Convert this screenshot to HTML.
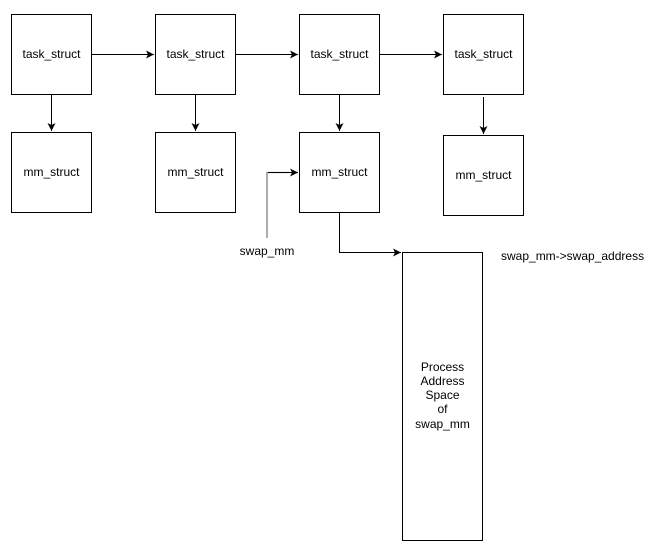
<!DOCTYPE html>
<html><head><style>
body{margin:0;background:#fff;width:672px;height:548px;overflow:hidden}
svg text{font-family:"Liberation Sans",Arial,sans-serif;font-size:12px;fill:#000}
</style></head><body>
<svg width="672" height="548" viewBox="0 0 672 548">
<defs><marker id="a" markerWidth="10" markerHeight="10" refX="8" refY="5" orient="auto" markerUnits="userSpaceOnUse"><path d="M0,1 L8,5 L0,9 L2,5 Z" fill="#000"/></marker></defs>
<g fill="#fff" stroke="#000" stroke-width="1">
<rect x="11.5" y="14.5" width="80" height="80"/>
<rect x="155.5" y="14.5" width="80" height="80"/>
<rect x="299.5" y="14.5" width="80" height="80"/>
<rect x="443.5" y="14.5" width="80" height="80"/>
<rect x="11.5" y="132.5" width="80" height="80"/>
<rect x="155.5" y="132.5" width="80" height="80"/>
<rect x="299.5" y="132.5" width="80" height="80"/>
<rect x="443.5" y="135.5" width="80" height="80"/>
<rect x="402.5" y="252.5" width="80" height="288"/>
</g>
<g stroke="#000" fill="none" marker-end="url(#a)">
<line x1="91.5" y1="54.5" x2="154" y2="54.5"/>
<line x1="235.5" y1="54.5" x2="298" y2="54.5"/>
<line x1="379.5" y1="54.5" x2="442" y2="54.5"/>
<line x1="51.5" y1="94.5" x2="51.5" y2="131"/>
<line x1="195.5" y1="94.5" x2="195.5" y2="131"/>
<line x1="339.5" y1="94.5" x2="339.5" y2="131"/>
<line x1="483.5" y1="97" x2="483.5" y2="134"/>
<polyline points="339.5,212.5 339.5,252.5 401,252.5"/>
</g>
<polyline points="267,238 267,172.5 298,172.5" stroke="#808080" stroke-width="1.3" fill="none"/>
<line x1="268" y1="172.5" x2="298" y2="172.5" stroke="#000" marker-end="url(#a)"/>
<g text-anchor="middle">
<text x="51.5" y="58">task_struct</text>
<text x="195.5" y="58">task_struct</text>
<text x="339.5" y="58">task_struct</text>
<text x="483.5" y="58">task_struct</text>
<text x="51.5" y="176">mm_struct</text>
<text x="195.5" y="176">mm_struct</text>
<text x="339.5" y="176">mm_struct</text>
<text x="483.5" y="179">mm_struct</text>
<text x="267" y="255">swap_mm</text>
<text x="442.5" y="371">Process</text>
<text x="442.5" y="385">Address</text>
<text x="442.5" y="399">Space</text>
<text x="442.5" y="413">of</text>
<text x="442.5" y="428">swap_mm</text>
</g>
<text x="501" y="260">swap_mm-&gt;swap_address</text>
</svg>
</body></html>
